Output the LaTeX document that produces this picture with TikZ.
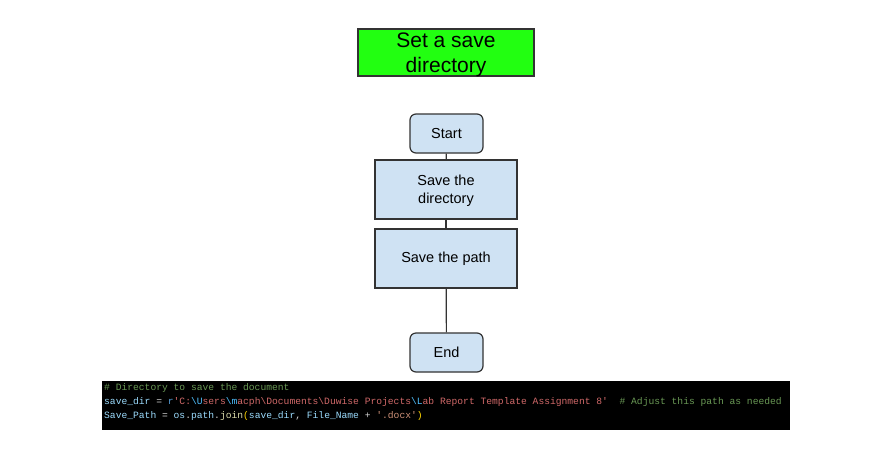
\documentclass[tikz,border=0pt]{standalone}
\usepackage{fontspec}
\setmainfont{Liberation Sans}
\newfontfamily\codefont{Liberation Mono}
\definecolor{greenfill}{HTML}{22FF11}
\definecolor{bluefill}{HTML}{CFE2F3}
\definecolor{edge}{HTML}{333333}
\definecolor{ccomment}{HTML}{6A9955}
\definecolor{cvar}{HTML}{9CDCFE}
\definecolor{cop}{HTML}{D4D4D4}
\definecolor{ckw}{HTML}{569CD6}
\definecolor{craw}{HTML}{D16969}
\definecolor{cstr}{HTML}{CE9178}
\definecolor{cesc}{HTML}{4FC1FF}
\definecolor{cfun}{HTML}{DCDCAA}
\definecolor{cparen}{HTML}{FFD700}
\newcommand{\bs}{\textbackslash}
\newcommand{\tc}[2]{\textcolor{#1}{#2}}
\begin{document}
\begin{tikzpicture}[x=1pt,y=-1pt,
  titlebox/.style={draw=edge,line width=1.2pt,fill=greenfill,inner sep=0pt,
    minimum width=176pt,minimum height=47pt},
  titletext/.style={inner sep=0pt,align=center,font=\fontsize{21}{25}\selectfont},
  roundbox/.style={draw=edge,line width=1.2pt,fill=bluefill,rounded corners=6pt,inner sep=0pt,
    minimum width=73pt,minimum height=39pt,align=center,font=\fontsize{14.5}{18}\selectfont},
  procbox/.style={draw=edge,line width=1.2pt,fill=bluefill,inner sep=0pt,
    minimum width=142pt,minimum height=59pt},
  boxtext/.style={inner sep=0pt,align=center,font=\fontsize{14.5}{18}\selectfont},
  link/.style={draw=edge,line width=1.2pt},
  codeline/.style={anchor=west,inner sep=0pt,font=\codefont\fontsize{9.65}{11}\selectfont}
]
\useasboundingbox (0,0) rectangle (883,456);
\fill[white] (0,0) rectangle (883,456);

\node[titlebox] (title) at (446,52.5) {};
\node[titletext] (titletxt) at ([yshift=-2.5pt]title.center) {Set a save\\directory};

\node[roundbox] (start) at (446.5,133.5) {Start};
\node[procbox] (dir) at (446,189.5) {};
\node[boxtext] (dirtxt) at ([yshift=-1.5pt]dir.center) {Save the\\directory};
\node[procbox] (path) at (446,258.5) {};
\node[boxtext] (pathtxt) at ([yshift=-0.5pt]path.center) {Save the path};
\node[roundbox] (end) at (446.5,352.5) {End};

\draw[link] (start) -- (dir);
\draw[link] (dir) -- (path);
\draw[link] (path) -- (end);

\node[fill=black,inner sep=0pt,minimum width=688pt,minimum height=49pt] (code) at (446,405.5) {};
\node[codeline] (l1) at (104,387.5) {\tc{ccomment}{\#\ Directory\ to\ save\ the\ document}};
\node[codeline] (l2) at (104,401.5) {\tc{cvar}{save\_dir}\tc{cop}{\ =\ }\tc{ckw}{r}\tc{craw}{'C:}\tc{cesc}{\bs U}\tc{craw}{sers}\tc{cesc}{\bs m}\tc{craw}{acph\bs Documents\bs Duwise\ Projects}\tc{cesc}{\bs L}\tc{craw}{ab\ Report\ Template\ Assignment\ 8'}\tc{cop}{\ \ }\tc{ccomment}{\#\ Adjust\ this\ path\ as\ needed}};
\node[codeline] (l3) at (104,415.5) {\tc{cvar}{Save\_Path}\tc{cop}{\ =\ }\tc{cvar}{os}\tc{cop}{.}\tc{cvar}{path}\tc{cop}{.}\tc{cfun}{join}\tc{cparen}{(}\tc{cvar}{save\_dir}\tc{cop}{,\ }\tc{cvar}{File\_Name}\tc{cop}{\ +\ }\tc{cstr}{'.docx'}\tc{cparen}{)}};
\end{tikzpicture}
\end{document}
